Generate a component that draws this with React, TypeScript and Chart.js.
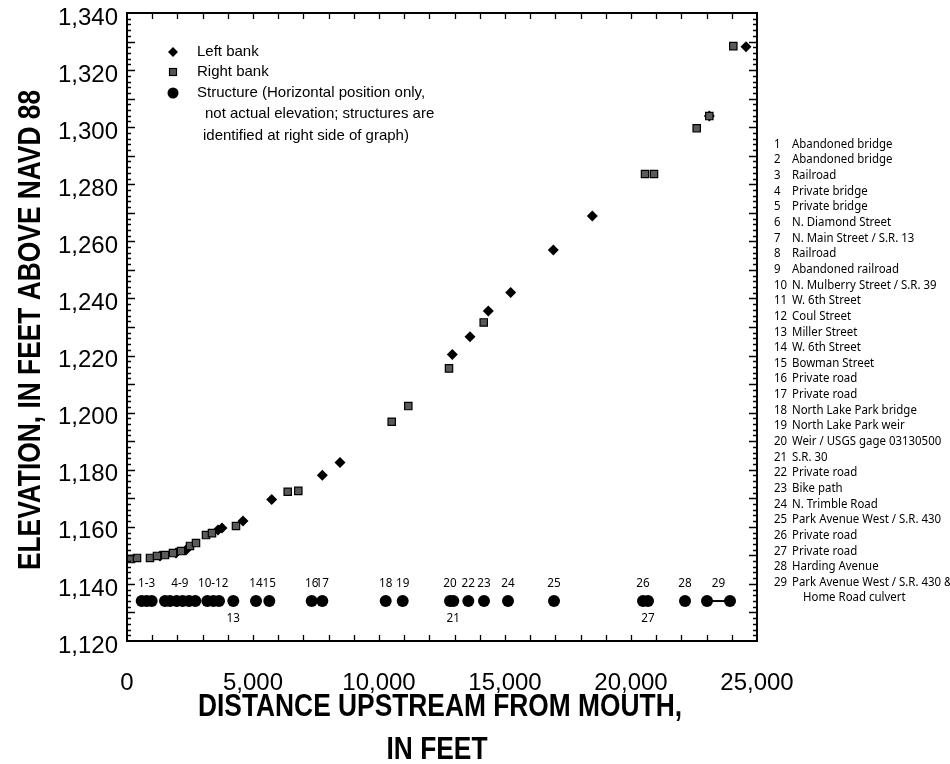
import React, { useEffect, useRef } from "react";
import { Chart, registerables } from "chart.js";

Chart.register(...registerables);

// Left bank elevations (feet above NAVD 88) by distance upstream from the mouth (feet)
const leftBankDistance = [1310, 1944, 2341, 3611, 3770, 4603, 5742, 7750, 8452, 12909, 13611, 14337, 15226, 16917, 18464, 23107, 24563];
const leftBankElevation = [1149.8, 1150.8, 1151.9, 1158.9, 1159.6, 1162.0, 1169.6, 1178.1, 1182.5, 1220.4, 1226.6, 1235.6, 1242.1, 1257.0, 1268.9, 1303.9, 1328.2];

// Right bank elevations
const rightBankDistance = [159, 397, 913, 1190, 1508, 1825, 2143, 2500, 2738, 3135, 3373, 4325, 6377, 6798, 10504, 11163, 12778, 14155, 20556, 20913, 22607, 23107, 24060];
const rightBankElevation = [1148.7, 1149.1, 1149.1, 1149.8, 1150.1, 1150.8, 1151.5, 1153.3, 1154.3, 1157.1, 1157.8, 1160.3, 1172.3, 1172.6, 1196.8, 1202.3, 1215.5, 1231.6, 1283.6, 1283.6, 1299.6, 1303.9, 1328.4];

// Structures: number and distance upstream (29 spans two positions)
const structureNumber = [1, 2, 3, 4, 5, 6, 7, 8, 9, 10, 11, 12, 13, 14, 15, 16, 17, 18, 19, 20, 21, 22, 23, 24, 25, 26, 27, 28, 29, 29];
const structureDistance = [583, 782, 980, 1508, 1706, 1972, 2210, 2460, 2710, 3187, 3425, 3651, 4218, 5119, 5647, 7329, 7750, 10266, 10940, 12817, 12948, 13544, 14167, 15119, 16944, 20476, 20675, 22143, 23016, 23929];
// Structures are plotted at a nominal elevation only
const structureElevation = 1134;

const structureNames = [
  "Abandoned bridge",
  "Abandoned bridge",
  "Railroad",
  "Private bridge",
  "Private bridge",
  "N. Diamond Street",
  "N. Main Street / S.R. 13",
  "Railroad",
  "Abandoned railroad",
  "N. Mulberry Street / S.R. 39",
  "W. 6th Street",
  "Coul Street",
  "Miller Street",
  "W. 6th Street",
  "Bowman Street",
  "Private road",
  "Private road",
  "North Lake Park bridge",
  "North Lake Park weir",
  "Weir / USGS gage 03130500",
  "S.R. 30",
  "Private road",
  "Bike path",
  "N. Trimble Road",
  "Park Avenue West / S.R. 430",
  "Private road",
  "Private road",
  "Harding Avenue",
  "Park Avenue West / S.R. 430 &",
];
const lastNameContinued = "Home Road culvert";

// Number tags over (or under) the structure dots
const tagText = ["1-3", "4-9", "10-12", "13", "14", "15", "16", "17", "18", "19", "20", "21", "22", "23", "24", "25", "26", "27", "28", "29"];
const tagFirst = [1, 4, 10, 13, 14, 15, 16, 17, 18, 19, 20, 21, 22, 23, 24, 25, 26, 27, 28, 29];
const tagLast = [3, 9, 12, 13, 14, 15, 16, 17, 18, 19, 20, 21, 22, 23, 24, 25, 26, 27, 28, 29];
const tagBelow = [false, false, false, true, false, false, false, false, false, false, false, true, false, false, false, false, false, true, false, false];

const xTicks = [0, 5000, 10000, 15000, 20000, 25000];
const yTicks = [1120, 1140, 1160, 1180, 1200, 1220, 1240, 1260, 1280, 1300, 1320, 1340];

const legendLines = [
  "Left bank",
  "Right bank",
  "Structure (Horizontal position only,",
  "not actual elevation; structures are",
  "identified at right side of graph)",
];

const SANS = "'Liberation Sans', Arial, sans-serif";
const LIST = "'Noto Sans', 'Open Sans', sans-serif";

function condensedText(
  ctx: CanvasRenderingContext2D,
  text: string,
  x: number,
  y: number,
  font: string,
  align: CanvasTextAlign,
  sx: number,
  rotate = 0
) {
  ctx.save();
  ctx.translate(x, y);
  if (rotate) ctx.rotate(rotate);
  ctx.scale(sx, 1);
  ctx.font = font;
  ctx.textAlign = align;
  ctx.textBaseline = "middle";
  ctx.fillStyle = "#000";
  ctx.fillText(text, 0, 0);
  ctx.restore();
}

function diamond(ctx: CanvasRenderingContext2D, x: number, y: number, r: number) {
  ctx.beginPath();
  ctx.moveTo(x, y - r);
  ctx.lineTo(x + r, y);
  ctx.lineTo(x, y + r);
  ctx.lineTo(x - r, y);
  ctx.closePath();
  ctx.fillStyle = "#000";
  ctx.fill();
}

const decorations = {
  id: "profileDecorations",
  afterDatasetsDraw(chart: any) {
    const ctx: CanvasRenderingContext2D = chart.ctx;
    const xs = chart.scales.x;
    const ys = chart.scales.y;
    const { left, right, top, bottom } = chart.chartArea;

    ctx.save();
    // frame
    ctx.strokeStyle = "#000";
    ctx.lineWidth = 2;
    ctx.strokeRect(left, top, right - left, bottom - top);

    // inward tick marks on all four sides
    ctx.lineWidth = 1.3;
    ctx.beginPath();
    for (let v = 1000; v < 25000; v += 1000) {
      const px = Math.round(xs.getPixelForValue(v)) + 0.5;
      ctx.moveTo(px, bottom);
      ctx.lineTo(px, bottom - 6);
      ctx.moveTo(px, top);
      ctx.lineTo(px, top + 6);
    }
    for (let v = 1122; v < 1340; v += 2) {
      const py = Math.round(ys.getPixelForValue(v)) + 0.5;
      const len = v % 10 === 0 ? 8 : 4;
      ctx.moveTo(left, py);
      ctx.lineTo(left + len, py);
      ctx.moveTo(right, py);
      ctx.lineTo(right - len, py);
    }
    ctx.stroke();

    // line joining the two ends of structure 29
    const ends = structureDistance.filter((_, i) => structureNumber[i] === 29);
    const sy = ys.getPixelForValue(structureElevation);
    ctx.lineWidth = 2;
    ctx.beginPath();
    ctx.moveTo(xs.getPixelForValue(ends[0]), sy);
    ctx.lineTo(xs.getPixelForValue(ends[1]), sy);
    ctx.stroke();

    // structure number tags
    tagText.forEach((t, i) => {
      const members = structureDistance.filter(
        (_, k) => structureNumber[k] >= tagFirst[i] && structureNumber[k] <= tagLast[i]
      );
      const avg = members.reduce((a, b) => a + b, 0) / members.length;
      const px = xs.getPixelForValue(avg);
      condensedText(ctx, t, px, tagBelow[i] ? sy + 17 : sy - 18, `13px ${LIST}`, "center", 0.9);
    });

    // legend
    const lx = 173;
    diamond(ctx, lx, 52, 5);
    ctx.fillStyle = "#555";
    ctx.fillRect(lx - 3.5, 68.5, 7, 7);
    ctx.strokeStyle = "#000";
    ctx.lineWidth = 1.2;
    ctx.strokeRect(lx - 3.5, 68.5, 7, 7);
    ctx.beginPath();
    ctx.arc(lx, 93, 5.5, 0, Math.PI * 2);
    ctx.fillStyle = "#000";
    ctx.fill();
    const ly = [52, 72, 93, 114, 136];
    const lxText = [197, 197, 197, 205, 203];
    legendLines.forEach((s, i) => condensedText(ctx, s, lxText[i], ly[i], `15px ${SANS}`, "left", 1));

    // structure list at right
    structureNames.forEach((name, i) => {
      const y = 144 + i * 15.65;
      condensedText(ctx, String(i + 1), 774, y, `13px ${LIST}`, "left", 0.88);
      condensedText(ctx, name, 792, y, `13px ${LIST}`, "left", 0.88);
    });
    condensedText(ctx, lastNameContinued, 803, 144 + 29 * 15.65 - 1, `13px ${LIST}`, "left", 0.88);

    // axis titles
    condensedText(ctx, "ELEVATION, IN FEET ABOVE NAVD 88", 31, 330, `bold 31px ${SANS}`, "center", 0.85, -Math.PI / 2);
    condensedText(ctx, "DISTANCE UPSTREAM FROM MOUTH,", 440, 707, `bold 31px ${SANS}`, "center", 0.85);
    condensedText(ctx, "IN FEET", 437, 750, `bold 31px ${SANS}`, "center", 0.85);
    ctx.restore();
  },
};

export default function App() {
  const ref = useRef<HTMLCanvasElement | null>(null);

  useEffect(() => {
    if (!ref.current) return;
    const chart = new Chart(ref.current, {
      type: "scatter",
      data: {
        datasets: [
          {
            label: "Structure",
            data: structureDistance.map((x) => ({ x, y: structureElevation })),
            pointStyle: "circle",
            pointRadius: 6,
            backgroundColor: "#000",
            borderColor: "#000",
            borderWidth: 0,
          },
          {
            label: "Right bank",
            data: rightBankDistance.map((x, i) => ({ x, y: rightBankElevation[i] })),
            pointStyle: "rect",
            pointRadius: 5.2,
            backgroundColor: "#5a5a5a",
            borderColor: "#000",
            borderWidth: 1.2,
          },
          {
            label: "Left bank",
            data: leftBankDistance.map((x, i) => ({ x, y: leftBankElevation[i] })),
            pointStyle: "rectRot",
            pointRadius: 5.5,
            backgroundColor: "#000",
            borderColor: "#000",
            borderWidth: 0,
          },
        ],
      },
      options: {
        responsive: false,
        animation: false,
        devicePixelRatio: 1,
        layout: { padding: { left: 0, right: 193, top: 13, bottom: 0 } },
        plugins: { legend: { display: false }, tooltip: { enabled: false } },
        scales: {
          x: {
            type: "linear",
            min: 0,
            max: 25000,
            afterFit: (s: any) => {
              s.height = 123;
              s.paddingLeft = 0;
              s.paddingRight = 0;
            },
            afterBuildTicks: (s: any) => {
              s.ticks = xTicks.map((v) => ({ value: v }));
            },
            grid: { display: false, drawTicks: false },
            border: { display: false },
            ticks: {
              padding: 28,
              maxRotation: 0,
              autoSkip: false,
              color: "#000",
              font: { family: SANS, size: 24 },
              callback: (v: any) => Number(v).toLocaleString("en-US"),
            },
          },
          y: {
            type: "linear",
            min: 1120,
            max: 1340,
            afterFit: (s: any) => {
              s.width = 127;
              s.paddingTop = 0;
              s.paddingBottom = 0;
            },
            afterBuildTicks: (s: any) => {
              s.ticks = yTicks.map((v) => ({ value: v }));
            },
            grid: { display: false, drawTicks: false },
            border: { display: false },
            ticks: {
              padding: 9,
              labelOffset: 5,
              autoSkip: false,
              color: "#000",
              font: { family: SANS, size: 24 },
              callback: (v: any) => Number(v).toLocaleString("en-US"),
            },
          },
        },
      },
      plugins: [decorations],
    });
    return () => chart.destroy();
  }, []);

  return (
    <div style={{ position: "absolute", left: 0, top: 0, width: 950, height: 764, background: "#fff" }}>
      <canvas ref={ref} width={950} height={764} style={{ display: "block" }} />
    </div>
  );
}
